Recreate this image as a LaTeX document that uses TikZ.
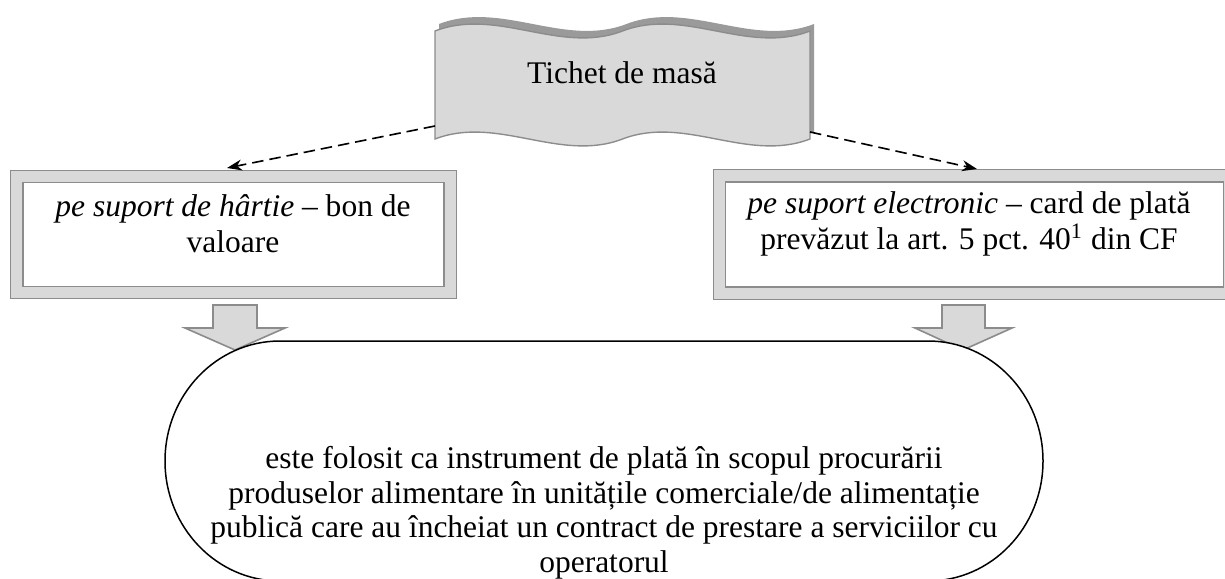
\documentclass[tikz,border=0pt]{standalone}
\usepackage{fontspec}
\setmainfont{Liberation Serif}
\usetikzlibrary{arrows.meta}
\definecolor{framefill}{HTML}{D9D9D9}
\definecolor{framedraw}{HTML}{8C8C8C}
\definecolor{waveshade}{HTML}{9A9A9A}

\begin{document}
\begin{tikzpicture}
[x=0.4pt,y=-0.4pt,
 txt/.style={font=\fontsize{12.6}{13.8}\selectfont,align=center,inner sep=0pt},
 boxtxt/.style={txt,font=\fontsize{12.6}{14.4}\selectfont},
 frame/.style={draw=framedraw,line width=0.5pt,double=framefill,double distance=4.4pt,fill=white,inner sep=0pt},
 blockarrow/.style={draw=framedraw,fill=framefill,line width=0.65pt,line join=miter},
 link/.style={dash pattern=on 4.6pt off 2.4pt,line width=0.65pt,-{Stealth[length=6pt,width=4.4pt]}}]
\useasboundingbox (0,0) rectangle (1225,579);
\clip (0,0) rectangle (1225,579);

% ticket: wavy banner with its darker depth behind
\fill[waveshade] (439,24) .. controls (501.5,0) and (564,48) .. (626.5,24)
	.. controls (689,0) and (751.5,48) .. (814,24)
	-- (814,132) .. controls (751.5,156) and (689,108) .. (626.5,132)
	.. controls (564,156) and (501.5,108) .. (439,132) -- cycle;
\draw[draw=framedraw,fill=framefill,line width=0.55pt]
	(435,31) .. controls (497.5,7) and (560,55) .. (622.5,31)
	.. controls (685,7) and (747.5,55) .. (810,31)
	-- (810,139) .. controls (747.5,163) and (685,115) .. (622.5,139)
	.. controls (560,163) and (497.5,115) .. (435,139) -- cycle;
\node[txt] (ticket) at (622,73) {Tichet de masă};
\coordinate (ticketW) at (435,126);
\coordinate (ticketE) at (810,132);

% the two kinds of ticket
\node[frame,minimum width=173.2pt,minimum height=46.4pt] (paper) at (233.5,234.5) {};
\node[boxtxt] (paperText) at (233,224) {\textit{pe suport de hârtie} – bon de\\valoare};
\node[frame,minimum width=204pt,minimum height=46.8pt] (card) at (974.5,234.5) {};
\node[boxtxt] (cardText) at (969,224) {\textit{pe suport electronic} – card de plată\\prevăzut la art. 5 pct. 40\textsuperscript{1} din CF};
\coordinate (paperTop) at (227,168);
\coordinate (cardTop) at (977,169);

\draw[link] (ticketW) -- (paperTop);
\draw[link] (ticketE) -- (cardTop);

% block arrows down to the common use
\draw[blockarrow] (213,305) -- ++(44,0) -- ++(0,23) -- ++(28,0) -- ++(-50,22)
	-- ++(-50,-22) -- ++(28,0) -- cycle;
\draw[blockarrow] (942,305) -- ++(43,0) -- ++(0,23) -- ++(27,0) -- ++(-49,22)
	-- ++(-48,-22) -- ++(27,0) -- cycle;

% rounded terminal, cut by the page bottom
\draw[line width=0.6pt,fill=white] (280,341) -- (928,341)
	arc[start angle=-90,end angle=90,x radius=115,y radius=120]
	-- (280,581)
	arc[start angle=90,end angle=270,x radius=115,y radius=120] -- cycle;
\node[txt] (useText) at (604,513) {este folosit ca instrument de plată în scopul procurării\\
produselor alimentare în unitățile comerciale/de alimentație\\
publică care au încheiat un contract de prestare a serviciilor cu\\
operatorul};
\end{tikzpicture}
\end{document}
